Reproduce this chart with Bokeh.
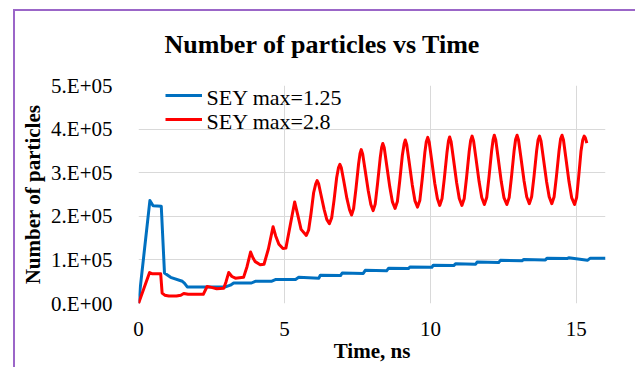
from bokeh.plotting import figure
from bokeh.models import FixedTicker, Range1d, Legend, LegendItem, Label
from bokeh.embed import file_html
from bokeh.resources import INLINE

# ---------------- data (particle counts in units of 1e5) ----------------
x_ticks = [0, 5, 10, 15]
x_tick_labels = ["0", "5", "10", "15"]
y_ticks = [0, 100000, 200000, 300000, 400000, 500000]
y_tick_labels = ["0.E+00", "1.E+05", "2.E+05", "3.E+05", "4.E+05", "5.E+05"]

series_names = ["SEY max=1.25", "SEY max=2.8"]

t_sey125 = [0, 0.39, 0.5, 0.78, 0.89, 1.1, 1.5, 1.58, 1.67, 2.98,
            3.15, 3.26, 3.87, 4.0, 4.55, 4.69, 5.38, 5.49, 6.18, 6.23,
            6.92, 6.98, 7.7, 7.77, 8.5, 8.57, 9.25, 9.3, 10.05, 10.1,
            10.8, 10.86, 11.55, 11.6, 12.34, 12.4, 13.14, 13.2, 13.94, 14.0,
            14.68, 14.74, 15.38, 15.48, 16.0]
n_sey125_e5 = [0, 2.36, 2.24, 2.23, 0.70, 0.60, 0.51, 0.46, 0.38, 0.38,
               0.42, 0.47, 0.47, 0.51, 0.51, 0.55, 0.55, 0.60, 0.58, 0.65,
               0.64, 0.70, 0.69, 0.76, 0.75, 0.81, 0.80, 0.84, 0.83, 0.88,
               0.87, 0.91, 0.90, 0.95, 0.94, 0.99, 0.98, 1.01, 1.00, 1.04,
               1.03, 1.05, 0.99, 1.04, 1.04]

t_sey28 = [0, 0.38, 0.48, 0.76, 0.81, 0.9, 1.04, 1.3, 1.45, 1.55,
           1.7, 2.22, 2.35, 2.5, 2.68, 2.92, 3.0, 3.09, 3.2, 3.32,
           3.6, 3.72, 3.84, 3.92, 4.0, 4.17, 4.3, 4.45, 4.61, 4.7,
           4.81, 4.95, 5.05, 5.2, 5.35, 5.45, 5.57, 5.75,
           5.83, 5.91, 6.00, 6.07, 6.12,
           6.17, 6.25, 6.36, 6.45, 6.54,
           6.62, 6.70, 6.79, 6.85, 6.90,
           6.95, 7.03, 7.14, 7.23, 7.30,
           7.37, 7.45, 7.54, 7.59, 7.63,
           7.68, 7.76, 7.87, 7.96, 8.04,
           8.11, 8.19, 8.28, 8.33, 8.37,
           8.42, 8.50, 8.61, 8.70, 8.79,
           8.87, 8.95, 9.04, 9.10, 9.14,
           9.19, 9.27, 9.38, 9.47, 9.56,
           9.64, 9.72, 9.81, 9.86, 9.91,
           9.96, 10.04, 10.15, 10.24, 10.32,
           10.40, 10.48, 10.57, 10.62, 10.66,
           10.71, 10.79, 10.90, 10.99, 11.08,
           11.16, 11.24, 11.33, 11.38, 11.43,
           11.48, 11.56, 11.67, 11.76, 11.85,
           11.93, 12.01, 12.10, 12.15, 12.19,
           12.24, 12.32, 12.43, 12.52, 12.62,
           12.70, 12.78, 12.87, 12.92, 12.97,
           13.02, 13.10, 13.21, 13.30, 13.39,
           13.47, 13.55, 13.64, 13.69, 13.74,
           13.79, 13.87, 13.98, 14.07, 14.16,
           14.24, 14.32, 14.41, 14.46, 14.51,
           14.56, 14.64, 14.75, 14.84, 14.94,
           15.01, 15.08, 15.16, 15.22, 15.27, 15.31, 15.36]
n_sey28_e5 = [0, 0.71, 0.68, 0.68, 0.24, 0.19, 0.17, 0.17, 0.19, 0.23,
              0.21, 0.21, 0.39, 0.37, 0.34, 0.35, 0.50, 0.71, 0.62, 0.58,
              0.60, 0.85, 1.18, 1.05, 0.96, 0.89, 0.90, 1.25, 1.76, 1.55,
              1.36, 1.26, 1.27, 1.80, 2.33, 2.05, 1.70, 1.56,
              1.69, 2.06, 2.54, 2.74, 2.82,
              2.75, 2.50, 2.16, 1.93, 1.83,
              1.97, 2.37, 2.89, 3.11, 3.19,
              3.11, 2.82, 2.41, 2.15, 2.03,
              2.18, 2.63, 3.20, 3.44, 3.53,
              3.43, 3.08, 2.59, 2.27, 2.13,
              2.28, 2.75, 3.33, 3.58, 3.67,
              3.57, 3.19, 2.67, 2.33, 2.18,
              2.34, 2.81, 3.40, 3.66, 3.75,
              3.64, 3.26, 2.72, 2.36, 2.21,
              2.37, 2.85, 3.46, 3.71, 3.81,
              3.70, 3.31, 2.76, 2.41, 2.25,
              2.41, 2.88, 3.47, 3.73, 3.82,
              3.71, 3.32, 2.77, 2.41, 2.25,
              2.41, 2.89, 3.49, 3.74, 3.84,
              3.73, 3.34, 2.79, 2.43, 2.27,
              2.43, 2.91, 3.51, 3.76, 3.86,
              3.75, 3.35, 2.79, 2.43, 2.27,
              2.43, 2.91, 3.51, 3.76, 3.86,
              3.75, 3.36, 2.81, 2.45, 2.29,
              2.45, 2.91, 3.50, 3.75, 3.84,
              3.73, 3.34, 2.80, 2.45, 2.29,
              2.45, 2.92, 3.51, 3.77, 3.86,
              3.75, 3.35, 2.79, 2.43, 2.27,
              2.43, 2.90, 3.49, 3.75, 3.84, 3.80, 3.68]

assert len(t_sey125) == len(n_sey125_e5)
assert len(t_sey28) == len(n_sey28_e5)

n_sey125 = [v * 1e5 for v in n_sey125_e5]
n_sey28 = [v * 1e5 for v in n_sey28_e5]

# ---------------- figure ----------------
SERIF = "Liberation Serif"
PURPLE = "#9b66c8"

p = figure(width=635, height=367, output_backend="svg", toolbar_location=None,
           x_range=Range1d(0, 16), y_range=Range1d(0, 500000),
           min_border_left=138, min_border_right=30,
           min_border_top=79, min_border_bottom=64)
p.outline_line_color = None
p.background_fill_color = "white"
p.border_fill_alpha = 0
p.styles = {
    "background-color": "white",
    "background-image": f"linear-gradient({PURPLE},{PURPLE}), linear-gradient({PURPLE},{PURPLE})",
    "background-size": "2px 360px, 625px 2px",
    "background-position": "13px 9px, 13px 9px",
    "background-repeat": "no-repeat",
}

p.title.text = "Number of particles  vs Time"
p.title.text_font = SERIF
p.title.text_font_size = "26px"
p.title.text_font_style = "bold"
p.title.text_color = "black"
p.title.align = "left"
p.title.offset = 26
p.title.standoff = 54

for ax in (p.xaxis[0], p.yaxis[0]):
    ax.axis_line_color = None
    ax.major_tick_line_color = None
    ax.minor_tick_line_color = None
    ax.major_label_text_font = SERIF
    ax.major_label_text_font_size = "21px"
    ax.major_label_text_color = "black"
    ax.axis_label_text_font = SERIF
    ax.axis_label_text_font_size = "21px"
    ax.axis_label_text_font_style = "bold"
    ax.axis_label_text_color = "black"

p.xaxis.ticker = FixedTicker(ticks=x_ticks)
p.xaxis.major_label_overrides = dict(zip(x_ticks, x_tick_labels))
p.xaxis.major_label_standoff = 12
p.xaxis.axis_label = "Time, ns"
p.xaxis.axis_label_standoff = 0

p.yaxis.ticker = FixedTicker(ticks=y_ticks)
p.yaxis.major_label_overrides = dict(zip(y_ticks, y_tick_labels))
p.yaxis.major_label_standoff = 20
p.yaxis.axis_label = "Number of particles"
p.yaxis.axis_label_standoff = 3

p.xgrid.ticker = FixedTicker(ticks=x_ticks)
p.ygrid.ticker = FixedTicker(ticks=y_ticks)
for g in (p.xgrid[0], p.ygrid[0]):
    g.grid_line_color = "#d9d9d9"
    g.grid_line_width = 1

r_blue = p.line(t_sey125, n_sey125, line_color="#0070C0", line_width=3, line_join="round")
r_red = p.line(t_sey28, n_sey28, line_color="#FF0000", line_width=3, line_join="round")

# legend swatches (labels drawn as serif text annotations next to them)
legend = Legend(items=[LegendItem(label=" ", renderers=[r_blue]),
                       LegendItem(label=" ", renderers=[r_red])],
                location=(27, 172), orientation="vertical")
legend.label_text_font_size = "21px"
legend.glyph_width = 37
legend.glyph_height = 24
legend.label_height = 24
legend.label_standoff = 4
legend.padding = 0
legend.spacing = 0
legend.margin = 0
legend.border_line_color = None
legend.background_fill_alpha = 0
p.add_layout(legend, "center")

for name, ly in zip(series_names, [206, 182]):
    p.add_layout(Label(x=68, y=ly, x_units="screen", y_units="screen", text=name,
                       text_font=SERIF, text_font_size="22px", text_color="black",
                       text_baseline="middle", text_align="left"))

html = file_html(p, INLINE)
html = html.replace("<head>", "<head><style>html,body{overflow:hidden;}</style>", 1)
open("out.html", "w").write(html)
